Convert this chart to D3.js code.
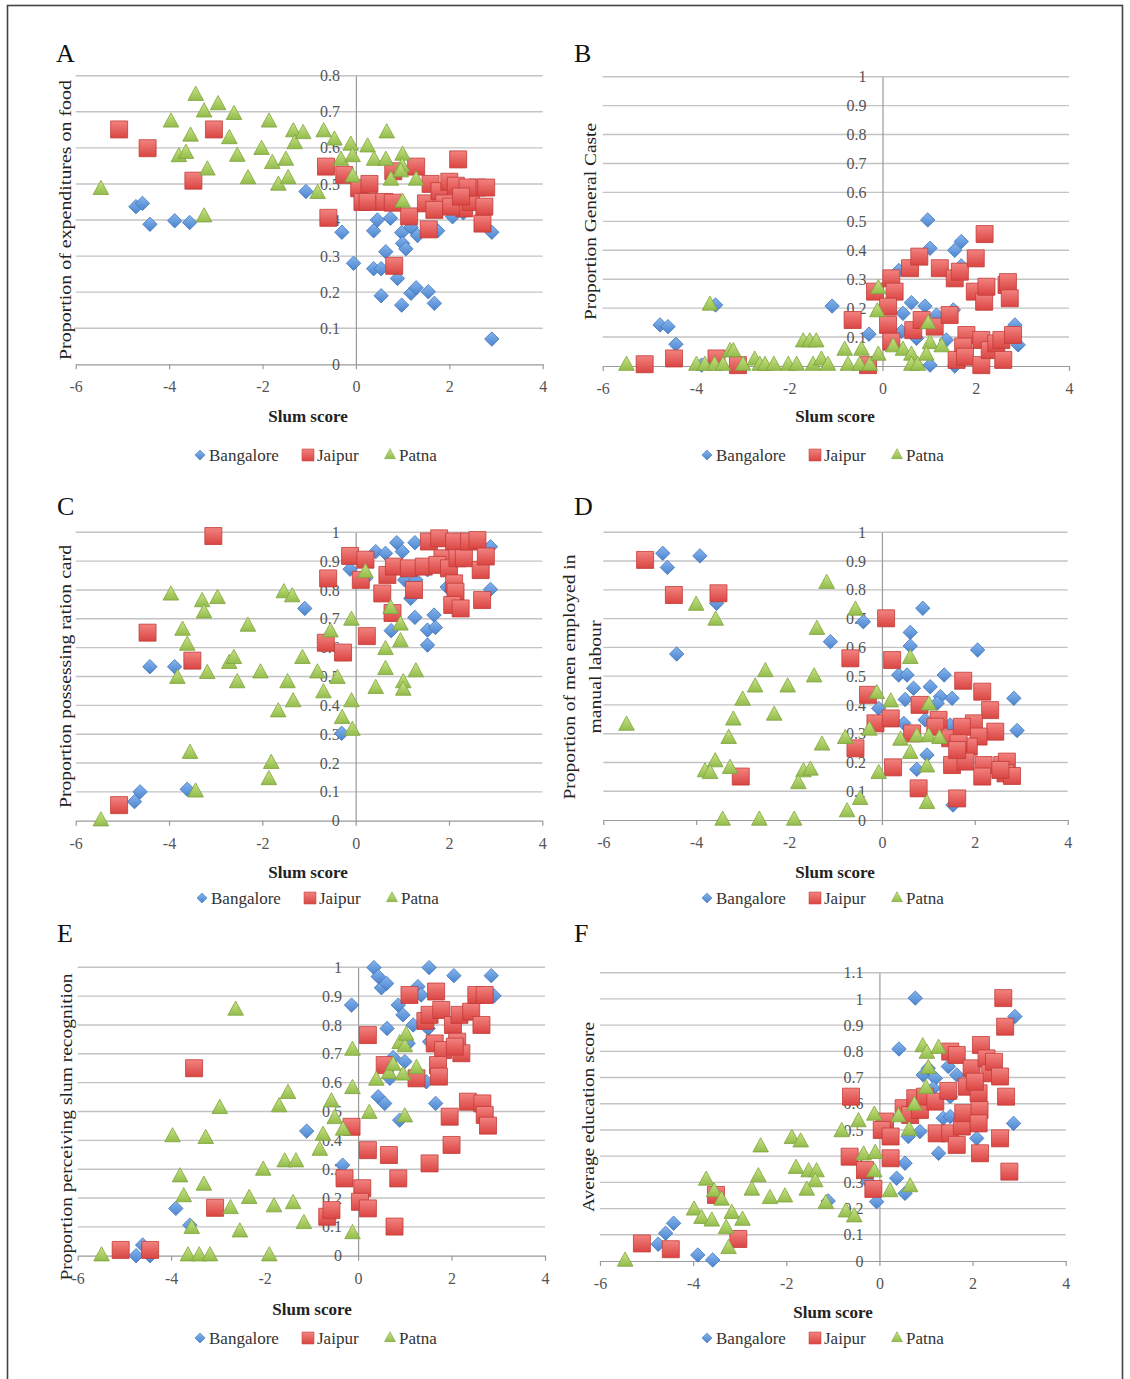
<!DOCTYPE html>
<html><head><meta charset="utf-8">
<script src="https://cdn.jsdelivr.net/npm/d3@7"></script>
<style>
body{margin:0;background:#fff}
svg{display:block}
text{font-family:"Liberation Serif","DejaVu Serif",serif}
</style>
</head><body>
<svg id="c" width="1130" height="1379"></svg>
<script>
// ---------- categories & ticks ----------
const cities = ["Bangalore", "Jaipur", "Patna"];
const xTicks = [-6, -4, -2, 0, 2, 4];
const yTicks08 = [0, 0.1, 0.2, 0.3, 0.4, 0.5, 0.6, 0.7, 0.8];
const yTicks10 = [0, 0.1, 0.2, 0.3, 0.4, 0.5, 0.6, 0.7, 0.8, 0.9, 1];
const yTicks11 = [0, 0.1, 0.2, 0.3, 0.4, 0.5, 0.6, 0.7, 0.8, 0.9, 1, 1.1];
const panelLetters = ["A", "B", "C", "D", "E", "F"];
const yTitles = [
  ["Proportion of expenditures on food"],
  ["Proportion General Caste"],
  ["Proportion possessing ration card"],
  ["Proportion of  men employed in", "manual labour"],
  ["Proportion perceiving slum recognition"],
  ["Average education score"]
];
const xTitle = "Slum score";

// ---------- Panel A: expenditures on food ----------
const A_bangalore = [[-4.71,0.437],[-4.57,0.446],[-4.41,0.388],[-3.88,0.398],[-3.56,0.393],[-1.07,0.479],[-0.30,0.366],[-0.05,0.28],[0.38,0.37],[0.46,0.40],[0.38,0.265],[0.54,0.265],[0.64,0.312],[0.54,0.19],[0.74,0.405],[0.89,0.238],[0.98,0.365],[1.0,0.335],[1.07,0.32],[0.98,0.164],[1.18,0.197],[1.29,0.212],[1.18,0.38],[1.32,0.357],[1.55,0.201],[1.68,0.169],[1.75,0.37],[2.07,0.409],[2.91,0.366],[2.91,0.07],[1.6,0.43],[2.3,0.42]];
const A_jaipur = [[-5.07,0.651],[-4.46,0.599],[-3.04,0.651],[-3.48,0.509],[-0.64,0.548],[-0.59,0.406],[-0.25,0.525],[0.07,0.488],[0.29,0.50],[0.14,0.45],[0.25,0.45],[0.61,0.45],[0.79,0.448],[0.82,0.273],[1.14,0.41],[1.29,0.548],[0.8,0.535],[1.5,0.446],[1.56,0.374],[1.6,0.5],[1.79,0.48],[1.89,0.446],[2.0,0.506],[2.14,0.495],[2.19,0.568],[2.32,0.432],[2.46,0.45],[2.6,0.49],[2.79,0.49],[2.71,0.39],[2.75,0.437],[1.68,0.428],[2.04,0.437],[2.39,0.49],[2.25,0.465]];
const A_patna = [[-5.46,0.485],[-3.96,0.672],[-3.43,0.746],[-3.25,0.70],[-2.95,0.72],[-2.61,0.693],[-2.71,0.626],[-3.79,0.576],[-3.64,0.585],[-3.54,0.633],[-3.18,0.539],[-3.25,0.409],[-2.54,0.577],[-2.31,0.515],[-2.02,0.596],[-1.86,0.672],[-1.79,0.557],[-1.5,0.566],[-1.66,0.497],[-1.45,0.515],[-1.34,0.645],[-1.31,0.612],[-1.13,0.64],[-0.69,0.645],[-0.82,0.474],[-0.46,0.622],[-0.32,0.566],[-0.11,0.608],[-0.07,0.576],[-0.07,0.52],[0.25,0.603],[0.39,0.566],[0.64,0.566],[0.66,0.642],[0.75,0.511],[1.0,0.58],[0.99,0.548],[1.0,0.45],[1.29,0.511],[0.96,0.534]];

// ---------- Panel B: general caste ----------
const B_bangalore = [[-4.77,0.142],[-4.6,0.136],[-4.43,0.075],[-3.58,0.211],[-1.08,0.207],[-0.29,0.11],[0.97,0.505],[1.02,0.407],[1.69,0.43],[1.55,0.40],[1.69,0.346],[0.44,0.182],[0.62,0.219],[0.91,0.207],[0.41,0.119],[0.73,0.096],[1.16,0.176],[1.52,0.194],[1.37,0.09],[2.84,0.142],[2.91,0.073],[1.02,0.003],[1.55,0.0],[-3.88,0.003],[0.35,0.33]];
const B_jaipur = [[-5.1,0.006],[-4.47,0.026],[-3.56,0.026],[-3.1,0.003],[-0.64,0.159],[-0.16,0.257],[-0.31,0.003],[0.19,0.303],[0.26,0.257],[0.12,0.205],[0.12,0.142],[0.19,0.084],[0.59,0.338],[0.79,0.378],[0.66,0.124],[0.84,0.159],[1.12,0.136],[1.23,0.338],[1.55,0.303],[1.66,0.326],[1.44,0.176],[2.0,0.372],[2.19,0.456],[1.98,0.257],[2.18,0.222],[2.23,0.274],[1.8,0.107],[1.73,0.067],[1.59,0.021],[1.77,0.032],[2.12,0.003],[2.12,0.09],[2.3,0.055],[2.44,0.078],[2.59,0.021],[2.55,0.09],[2.66,0.28],[2.69,0.29],[2.73,0.234],[2.8,0.107]];
const B_patna = [[-5.49,0.003],[-3.99,0.003],[-3.81,0.003],[-3.7,0.211],[-3.6,0.003],[-3.42,0.003],[-3.27,0.05],[-3.2,0.05],[-2.99,0.003],[-2.74,0.021],[-2.63,0.003],[-2.52,0.003],[-2.33,0.003],[-2.02,0.003],[-1.84,0.003],[-1.7,0.084],[-1.56,0.084],[-1.42,0.084],[-1.49,0.003],[-1.31,0.021],[-1.17,0.003],[-0.81,0.055],[-0.74,0.003],[-0.49,0.003],[-0.45,0.055],[-0.27,0.003],[-0.09,0.268],[-0.11,0.188],[-0.09,0.038],[0.23,0.067],[0.44,0.055],[0.62,0.038],[0.62,0.003],[0.76,0.003],[0.98,0.147],[1.02,0.078],[0.94,0.038],[1.27,0.067]];

// ---------- Panel C: ration card ----------
const C_bangalore = [[-4.74,0.066],[-4.62,0.10],[-4.41,0.534],[-3.88,0.534],[-3.61,0.109],[-1.09,0.736],[-0.3,0.303],[0.88,0.964],[1.27,0.964],[0.43,0.933],[0.64,0.927],[1.0,0.933],[-0.12,0.872],[0.21,0.84],[1.18,0.771],[1.05,0.835],[1.29,0.835],[0.76,0.659],[1.27,0.705],[1.68,0.713],[1.54,0.661],[1.71,0.67],[1.54,0.609],[2.89,0.802],[2.89,0.95],[1.96,0.81],[1.54,0.87]];
const C_jaipur = [[-5.07,0.054],[-4.46,0.652],[-3.05,0.987],[-3.5,0.555],[-0.59,0.84],[-0.64,0.617],[-0.27,0.583],[-0.12,0.918],[0.11,0.835],[0.21,0.905],[0.24,0.64],[0.57,0.788],[0.68,0.852],[0.82,0.881],[0.79,0.72],[1.14,0.875],[1.25,0.80],[1.46,0.881],[1.57,0.968],[1.79,0.979],[1.86,0.91],[1.75,0.887],[2.0,0.875],[2.11,0.968],[2.18,0.91],[2.32,0.91],[2.43,0.968],[2.61,0.973],[2.11,0.823],[2.14,0.794],[2.07,0.748],[2.25,0.736],[2.71,0.765],[2.68,0.869],[2.79,0.916]];
const C_patna = [[-5.46,0.0],[-3.96,0.783],[-3.29,0.76],[-2.96,0.771],[-3.25,0.721],[-3.71,0.661],[-3.61,0.609],[-3.82,0.494],[-3.18,0.511],[-2.71,0.546],[-2.61,0.563],[-2.54,0.479],[-2.31,0.675],[-2.04,0.513],[-1.54,0.791],[-1.36,0.777],[-1.14,0.563],[-1.46,0.479],[-1.34,0.413],[-1.66,0.378],[-0.82,0.513],[-0.69,0.444],[-0.54,0.655],[-0.39,0.494],[-0.29,0.355],[-0.09,0.413],[-0.09,0.696],[-0.07,0.314],[0.21,0.861],[0.75,0.736],[0.43,0.459],[0.64,0.594],[0.64,0.525],[0.96,0.679],[0.96,0.621],[1.02,0.479],[1.02,0.453],[1.29,0.517],[-3.55,0.234],[-3.43,0.10],[-1.81,0.199],[-1.86,0.143]];

// ---------- Panel D: manual labour ----------
const D_bangalore = [[-4.72,0.927],[-4.62,0.878],[-3.92,0.918],[-4.42,0.577],[-3.56,0.753],[-1.11,0.62],[-0.4,0.689],[0.88,0.736],[0.61,0.652],[0.61,0.605],[2.06,0.591],[0.36,0.504],[0.54,0.504],[1.34,0.504],[0.68,0.458],[1.04,0.463],[0.5,0.419],[1.26,0.429],[1.51,0.423],[1.19,0.406],[2.84,0.423],[2.91,0.311],[-0.07,0.388],[0.47,0.336],[0.93,0.348],[1.47,0.33],[0.97,0.226],[0.75,0.176],[1.53,0.052]];
const D_jaipur = [[-5.1,0.904],[-4.48,0.782],[-3.52,0.788],[-3.04,0.151],[-0.68,0.562],[-0.57,0.249],[-0.3,0.435],[-0.14,0.336],[0.09,0.701],[0.22,0.556],[0.19,0.353],[0.24,0.183],[0.65,0.301],[0.81,0.40],[0.79,0.11],[1.22,0.348],[1.15,0.324],[1.47,0.284],[1.51,0.191],[1.62,0.075],[1.75,0.484],[2.16,0.446],[2.33,0.382],[2.44,0.307],[1.98,0.336],[2.08,0.29],[1.72,0.324],[1.87,0.255],[1.65,0.267],[1.8,0.203],[2.19,0.191],[2.16,0.151],[2.59,0.191],[2.69,0.203],[2.66,0.162],[2.8,0.153],[2.55,0.174],[1.62,0.243]];
const D_patna = [[-5.5,0.33],[-4.0,0.747],[-3.58,0.695],[-2.51,0.516],[-2.73,0.463],[-3.0,0.417],[-3.2,0.348],[-2.32,0.365],[-3.3,0.284],[-3.59,0.203],[-3.81,0.168],[-3.7,0.162],[-3.27,0.18],[-3.43,0.0],[-2.64,0.0],[-1.89,0.0],[-2.03,0.463],[-1.46,0.498],[-1.4,0.663],[-1.19,0.823],[-1.29,0.261],[-1.69,0.168],[-1.54,0.174],[-1.8,0.127],[-0.79,0.284],[-0.57,0.73],[-0.75,0.029],[-0.47,0.072],[-0.27,0.313],[-0.11,0.44],[-0.07,0.162],[0.19,0.411],[0.4,0.278],[0.61,0.562],[0.75,0.29],[1.01,0.29],[1.24,0.284],[1.01,0.40],[0.61,0.232],[0.97,0.185],[0.97,0.058]];

// ---------- Panel E: slum recognition ----------
const E_bangalore = [[-4.75,0.0],[-4.61,0.037],[-4.45,0.0],[-3.9,0.164],[-3.6,0.106],[-1.1,0.432],[-0.33,0.314],[-0.14,0.869],[0.34,0.999],[0.43,0.968],[0.5,0.929],[0.61,0.944],[1.52,0.999],[2.05,0.971],[2.85,0.971],[2.91,0.901],[0.86,0.869],[0.96,0.835],[1.1,0.899],[1.28,0.933],[1.35,0.904],[1.18,0.80],[1.5,0.788],[0.62,0.788],[0.75,0.687],[1.0,0.673],[1.53,0.742],[1.07,0.736],[0.43,0.551],[0.57,0.528],[0.68,0.615],[1.46,0.603],[1.66,0.528],[0.89,0.47]];
const E_jaipur = [[-5.08,0.02],[-4.45,0.02],[-3.51,0.65],[-3.06,0.166],[-0.66,0.135],[-0.57,0.158],[-0.29,0.268],[-0.14,0.447],[0.09,0.234],[0.04,0.187],[0.21,0.164],[0.21,0.366],[0.21,0.765],[0.66,0.349],[0.86,0.268],[0.78,0.101],[0.57,0.661],[1.1,0.904],[1.44,0.814],[1.53,0.835],[1.64,0.736],[1.67,0.916],[1.78,0.852],[1.82,0.713],[1.71,0.661],[1.73,0.621],[1.25,0.615],[1.53,0.32],[2.0,0.384],[1.96,0.482],[2.03,0.80],[2.17,0.835],[2.12,0.742],[2.21,0.702],[2.07,0.725],[2.42,0.846],[2.35,0.534],[2.53,0.904],[2.64,0.80],[2.66,0.528],[2.71,0.488],[2.78,0.451],[2.71,0.904]];
const E_patna = [[-5.49,0.0],[-3.97,0.413],[-3.81,0.274],[-3.73,0.205],[-3.56,0.095],[-3.64,0.0],[-3.4,0.0],[-3.17,0.0],[-3.3,0.245],[-3.26,0.407],[-2.96,0.511],[-2.62,0.852],[-2.73,0.164],[-2.53,0.083],[-2.33,0.199],[-2.03,0.297],[-1.8,0.17],[-1.9,0.0],[-1.69,0.517],[-1.5,0.563],[-1.57,0.326],[-1.33,0.326],[-1.39,0.181],[-1.16,0.112],[-0.82,0.366],[-0.75,0.418],[-0.57,0.534],[-0.5,0.476],[-0.32,0.436],[-0.12,0.58],[-0.12,0.713],[-0.12,0.077],[0.24,0.494],[0.39,0.609],[0.66,0.632],[0.75,0.661],[0.96,0.627],[0.89,0.736],[1.0,0.725],[1.03,0.765],[1.25,0.65],[1.0,0.482]];

// ---------- Panel F: education score ----------
const F_bangalore = [[-4.75,0.064],[-4.59,0.106],[-4.42,0.144],[-3.9,0.023],[-3.58,0.004],[-1.1,0.229],[-0.06,0.226],[-0.24,0.303],[0.77,1.003],[0.42,0.809],[2.91,0.933],[2.88,0.525],[0.37,0.316],[0.55,0.373],[0.55,0.258],[0.62,0.475],[0.87,0.494],[0.94,0.71],[1.05,0.735],[1.2,0.697],[1.27,0.411],[1.37,0.545],[1.52,0.551],[1.48,0.742],[1.66,0.71],[1.52,0.627],[2.09,0.468],[1.16,0.659]];
const F_jaipur = [[-5.1,0.067],[-4.48,0.045],[-3.51,0.252],[-3.03,0.084],[-0.61,0.627],[-0.64,0.398],[-0.31,0.347],[-0.13,0.275],[0.12,0.532],[0.05,0.50],[0.24,0.475],[0.24,0.392],[0.52,0.583],[0.66,0.557],[0.77,0.621],[0.87,0.576],[0.98,0.627],[1.2,0.608],[1.23,0.487],[1.48,0.649],[1.52,0.487],[1.52,0.799],[1.66,0.786],[1.66,0.443],[1.77,0.513],[1.8,0.564],[1.88,0.665],[1.98,0.735],[2.13,0.64],[2.15,0.576],[2.13,0.525],[2.18,0.824],[2.16,0.411],[2.3,0.773],[2.38,0.716],[2.46,0.76],[2.59,0.704],[2.66,1.003],[2.7,0.894],[2.59,0.468],[2.72,0.627],[2.79,0.341],[2.05,0.684]];
const F_patna = [[-5.46,0.0],[-3.72,0.309],[-3.55,0.265],[-3.39,0.233],[-3.98,0.195],[-3.82,0.163],[-3.6,0.153],[-3.17,0.182],[-2.94,0.156],[-3.29,0.125],[-3.24,0.048],[-2.74,0.271],[-2.6,0.322],[-2.55,0.436],[-2.35,0.239],[-2.03,0.245],[-1.88,0.468],[-1.69,0.455],[-1.79,0.354],[-1.52,0.341],[-1.35,0.341],[-1.38,0.303],[-1.56,0.271],[-1.15,0.22],[-0.81,0.494],[-0.72,0.188],[-0.54,0.169],[-0.45,0.532],[-0.34,0.405],[-0.09,0.411],[-0.11,0.557],[-0.11,0.341],[0.23,0.265],[0.41,0.551],[0.66,0.284],[0.64,0.50],[0.75,0.595],[0.93,0.818],[1.02,0.793],[1.27,0.812],[1.05,0.735],[1.0,0.659]];

// ---------- layout (pixels) ----------
const layout = [
  {data:[A_bangalore,A_jaipur,A_patna], yTicks:yTicks08, yMax:0.8, x0:75.7, x1:542.7, yT:75.7, yB:364.3, letter:[56,62], tX:[65.5], tY:220, tLen:[280], xT:[308,422], leg:[200,455]},
  {data:[B_bangalore,B_jaipur,B_patna], yTicks:yTicks10, yMax:1.0, x0:602.7, x1:1069, yT:76.7, yB:366, letter:[574,62], tX:[590], tY:221.5, tLen:[197], xT:[835,422], leg:[707,455]},
  {data:[C_bangalore,C_jaipur,C_patna], yTicks:yTicks10, yMax:1.0, x0:75.7, x1:542.3, yT:532.3, yB:820.7, letter:[57,515], tX:[65.5], tY:676.5, tLen:[263], xT:[308,878], leg:[202,898]},
  {data:[D_bangalore,D_jaipur,D_patna], yTicks:yTicks10, yMax:1.0, x0:603.3, x1:1067.7, yT:532.3, yB:820, letter:[574,515], tX:[569,595], tY:677, tLen:[245,113], xT:[835,878], leg:[707,898]},
  {data:[E_bangalore,E_jaipur,E_patna], yTicks:yTicks10, yMax:1.0, x0:77.7, x1:545, yT:967.3, yB:1255.7, letter:[57,942], tX:[66], tY:1127, tLen:[307], xT:[312,1315], leg:[200,1338]},
  {data:[F_bangalore,F_jaipur,F_patna], yTicks:yTicks11, yMax:1.1, x0:600, x1:1065.7, yT:972.7, yB:1261, letter:[574,942], tX:[588.5], tY:1117, tLen:[190], xT:[833,1318], leg:[707,1338]}
];

// ---------- styles ----------
const FONT = '"Liberation Serif","DejaVu Serif",serif';
const gradStops = [["#86b6ef","#4b83cc"],["#f28380","#da4542"],["#c8e385","#93bc4b"]];
const strokes = ["#3f74bb","#c23b38","#7fa33e"];
const shapes = [
  s => `M0,${-7.2*s}L${7.2*s},0L0,${7.2*s}L${-7.2*s},0Z`,
  s => `M${-8.5*s},${-8.5*s}H${8.5*s}V${8.5*s}H${-8.5*s}Z`,
  s => `M0,${-9*s}L${7.8*s},${5.2*s}L${-7.8*s},${5.2*s}Z`
];

const svg = d3.select('#c');
svg.append('rect').attr('width',1130).attr('height',1379).attr('fill','#fff');
svg.append('rect').attr('x',7.5).attr('y',5.5).attr('width',1115).attr('height',1400)
   .attr('fill','none').attr('stroke','#444').attr('stroke-width',1.6);

const defs = svg.append('defs');
gradStops.forEach((st,i) => {
  const lg = defs.append('linearGradient').attr('id','g'+i).attr('x1',0).attr('y1',0).attr('x2',0).attr('y2',1);
  lg.append('stop').attr('offset','0%').attr('stop-color',st[0]);
  lg.append('stop').attr('offset','100%').attr('stop-color',st[1]);
});

layout.forEach((p, pi) => {
  const x = d3.scaleLinear().domain([-6,4]).range([p.x0,p.x1]);
  const y = d3.scaleLinear().domain([0,p.yMax]).range([p.yB,p.yT]);
  const g = svg.append('g');

  // gridlines
  g.append('g').selectAll('line').data(p.yTicks.filter(t => t > 0)).join('line')
    .attr('x1',p.x0).attr('x2',p.x1).attr('y1',d=>y(d)).attr('y2',d=>y(d))
    .attr('stroke','#c3c3c3').attr('stroke-width',1.4);

  // x axis at y = 0
  const xa = g.append('g').attr('transform',`translate(0,${y(0)})`)
    .call(d3.axisBottom(x).tickValues(xTicks).tickSize(5).tickSizeOuter(0).tickFormat(d => String(d)));
  xa.attr('font-family',FONT).attr('font-size',16);
  xa.select('.domain').attr('stroke','#9a9a9a').attr('stroke-width',1.2);
  xa.selectAll('.tick line').attr('stroke','#9a9a9a').attr('stroke-width',1.2);
  xa.selectAll('.tick text').attr('y',28).attr('dy',0).attr('fill','#555');

  // y axis at x = 0
  const ya = g.append('g').attr('transform',`translate(${x(0)},0)`)
    .call(d3.axisLeft(y).tickValues(p.yTicks).tickSize(0).tickPadding(16).tickFormat(d => String(+d.toFixed(1))));
  ya.attr('font-family',FONT).attr('font-size',16);
  ya.select('.domain').attr('stroke','#9a9a9a').attr('stroke-width',1.2);
  ya.selectAll('.tick text').attr('fill','#555');

  // points: Bangalore, Jaipur, Patna (later series on top)
  p.data.forEach((series, si) => {
    g.append('g').selectAll('path').data(series).join('path')
      .attr('d', shapes[si](1))
      .attr('transform', d => `translate(${x(d[0])},${y(d[1])})`)
      .attr('fill', `url(#g${si})`)
      .attr('stroke', strokes[si]).attr('stroke-width',0.8);
  });

  // panel letter
  g.append('text').attr('x',p.letter[0]).attr('y',p.letter[1]).text(panelLetters[pi])
    .attr('font-size',26).attr('fill','#111');

  // y title(s)
  yTitles[pi].forEach((t, ti) => {
    g.append('text')
      .attr('transform',`translate(${p.tX[ti]},${p.tY}) rotate(-90)`)
      .attr('text-anchor','middle').attr('dy','0.33em')
      .attr('font-size',17).attr('fill','#222')
      .attr('textLength',p.tLen[ti]).attr('lengthAdjust','spacingAndGlyphs')
      .text(t);
  });

  // x title
  g.append('text').attr('x',p.xT[0]).attr('y',p.xT[1]).attr('text-anchor','middle')
    .attr('font-size',17).attr('font-weight','bold').attr('fill','#222').text(xTitle);

  // legend
  const offs = [0,108,190];
  const lg = g.append('g').attr('transform',`translate(${p.leg[0]},${p.leg[1]})`);
  cities.forEach((c, ci) => {
    const it = lg.append('g').attr('transform',`translate(${offs[ci]},0)`);
    it.append('path').attr('d',shapes[ci](0.7)).attr('fill',`url(#g${ci})`)
      .attr('stroke',strokes[ci]).attr('stroke-width',0.6);
    it.append('text').attr('x',9).attr('y',5.5).attr('font-size',17).attr('fill','#333').text(c);
  });
});
</script>
</body></html>
